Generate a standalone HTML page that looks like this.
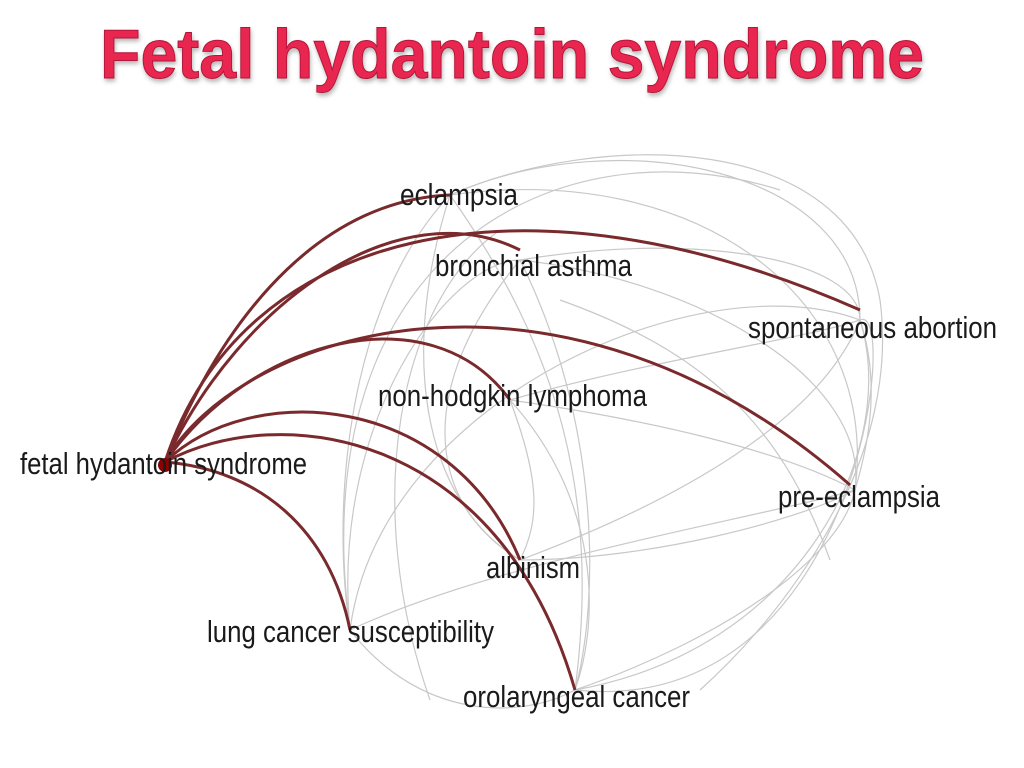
<!DOCTYPE html>
<html><head><meta charset="utf-8"><style>
html,body{margin:0;padding:0;background:#fff;}
svg{display:block}
.l{font-family:"Liberation Sans Narrow","Liberation Sans",sans-serif;font-size:31px;fill:#1a1a1a}
</style></head><body>
<svg width="1024" height="768" viewBox="0 0 1024 768" xmlns="http://www.w3.org/2000/svg">
<defs><filter id="sh" x="-5%" y="-20%" width="110%" height="150%"><feDropShadow dx="1" dy="3" stdDeviation="2" flood-color="#888" flood-opacity="0.6"/></filter></defs>
<text x="512" y="78" text-anchor="middle" textLength="824" lengthAdjust="spacingAndGlyphs" font-family="Liberation Sans, sans-serif" font-weight="bold" font-size="70" fill="#e8264f" stroke="#b3143a" stroke-width="1" filter="url(#sh)">Fetal hydantoin syndrome</text>
<g fill="none" stroke="#c8c8c8" stroke-width="1.2">
<path d="M450,195 C620,120 860,170 860,320"/>
<path d="M450,195 C700,160 880,300 855,490"/>
<path d="M520,260 C700,230 860,260 860,320"/>
<path d="M520,260 C700,280 870,380 855,490"/>
<path d="M520,260 C420,380 420,500 520,560"/>
<path d="M520,260 C600,420 600,600 575,690"/>
<path d="M350,630 C330,420 450,260 520,260"/>
<path d="M350,630 C380,400 700,260 860,320"/>
<path d="M350,630 C500,560 750,520 855,490"/>
<path d="M350,630 C420,720 520,720 575,690"/>
<path d="M350,630 C300,250 560,120 780,190"/>
<path d="M510,400 C650,360 800,340 860,320"/>
<path d="M510,400 C650,420 780,450 855,490"/>
<path d="M510,400 C540,480 540,520 520,560"/>
<path d="M510,400 C600,500 600,620 575,690"/>
<path d="M520,560 C650,560 800,520 855,490"/>
<path d="M520,560 C680,500 820,420 860,320"/>
<path d="M575,690 C720,640 840,560 855,490"/>
<path d="M575,690 C800,650 900,450 860,320"/>
<path d="M575,690 C860,720 900,300 860,320"/>
<path d="M450,195 C400,350 420,500 520,560"/>
<path d="M450,195 C560,350 600,500 575,690"/>
<path d="M450,195 C350,300 330,500 350,630"/>
<path d="M860,320 C880,380 870,440 855,490"/>
<path d="M450,195 C600,130 850,130 880,300 C900,450 800,600 700,690"/>
<path d="M500,230 C400,300 360,500 430,700"/>
<path d="M560,300 C700,350 780,420 830,560"/>
</g>
<g fill="none" stroke="#7a2a2c" stroke-width="3">
<path d="M165,462 C230,300 330,200 450,195"/>
<path d="M165,462 C240,230 520,160 860,310"/>
<path d="M165,462 C240,300 400,190 520,250"/>
<path d="M165,462 C240,330 560,230 850,485"/>
<path d="M165,462 C250,340 430,290 510,400"/>
<path d="M165,462 C250,380 450,390 520,560"/>
<path d="M165,462 C280,400 500,430 575,690"/>
<path d="M165,462 C260,470 330,530 350,630"/>
</g>
<circle cx="165" cy="465" r="7" fill="#8b0000"/>
<text class="l" x="400" y="205" textLength="118" lengthAdjust="spacingAndGlyphs">eclampsia</text>
<text class="l" x="435" y="276" textLength="197" lengthAdjust="spacingAndGlyphs">bronchial asthma</text>
<text class="l" x="748" y="338" textLength="249" lengthAdjust="spacingAndGlyphs">spontaneous abortion</text>
<text class="l" x="378" y="406" textLength="269" lengthAdjust="spacingAndGlyphs">non-hodgkin lymphoma</text>
<text class="l" x="20" y="474" textLength="287" lengthAdjust="spacingAndGlyphs">fetal hydantoin syndrome</text>
<text class="l" x="778" y="507" textLength="162" lengthAdjust="spacingAndGlyphs">pre-eclampsia</text>
<text class="l" x="486" y="578" textLength="94" lengthAdjust="spacingAndGlyphs">albinism</text>
<text class="l" x="207" y="642" textLength="287" lengthAdjust="spacingAndGlyphs">lung cancer susceptibility</text>
<text class="l" x="463" y="707" textLength="227" lengthAdjust="spacingAndGlyphs">orolaryngeal cancer</text>
</svg>
</body></html>
